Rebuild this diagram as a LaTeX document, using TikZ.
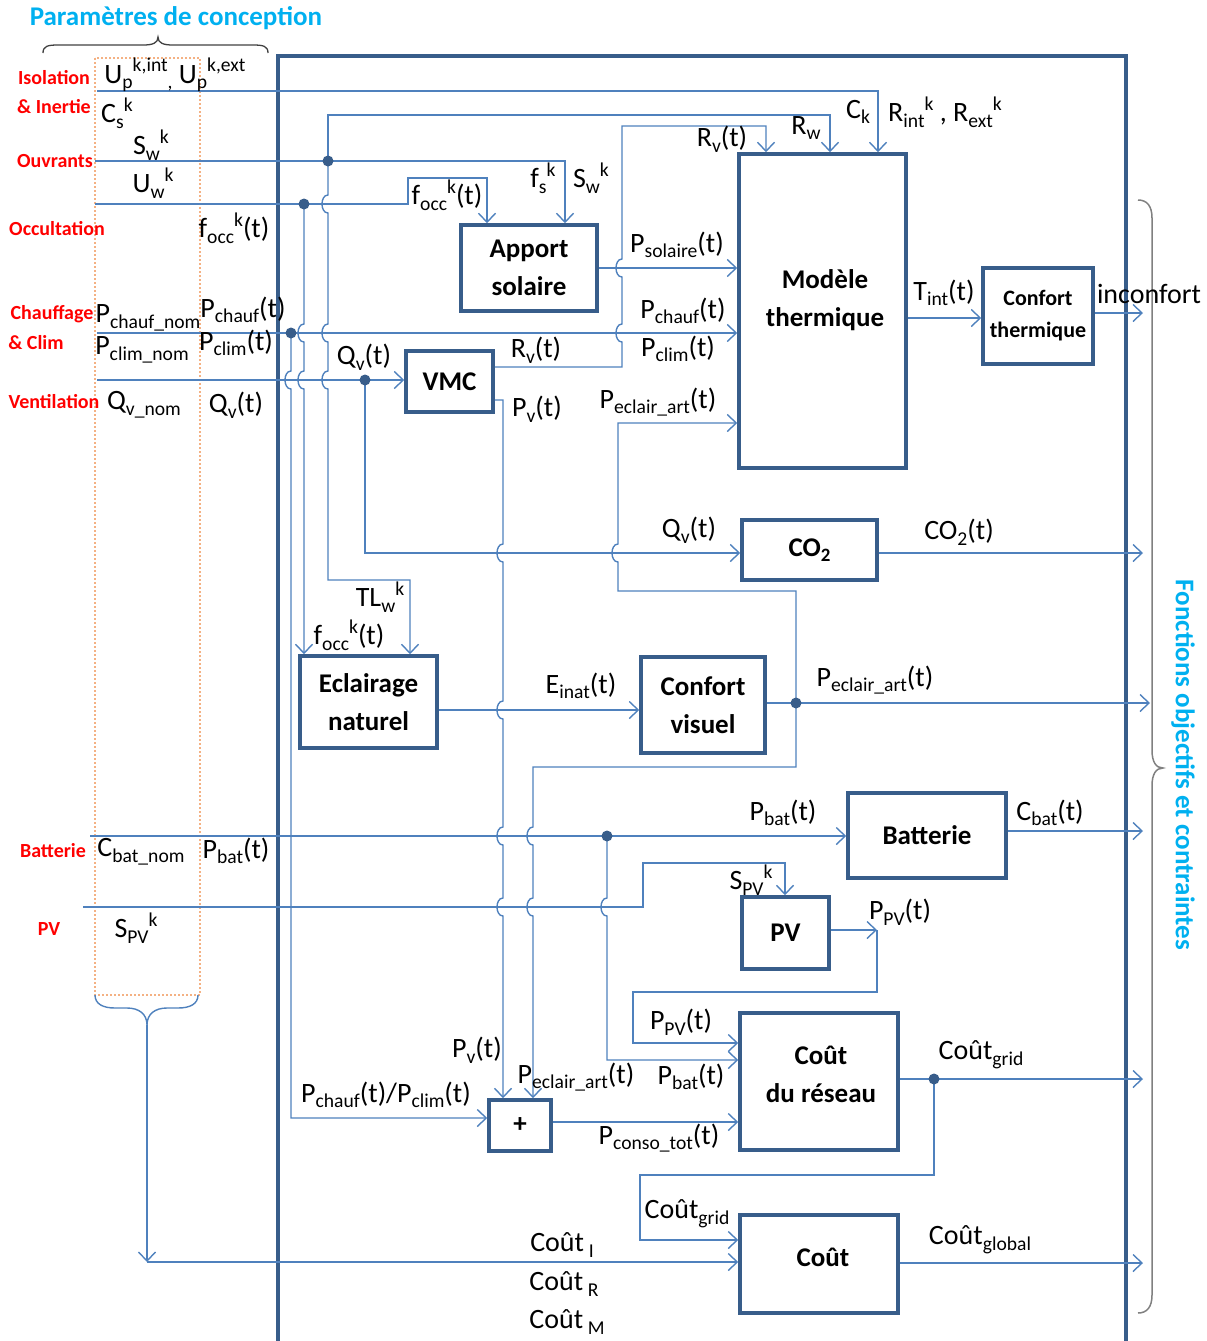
\documentclass[tikz,border=0pt]{standalone}
\usepackage{fontspec}
\setmainfont{Carlito}
\usetikzlibrary{arrows.meta}
\definecolor{lineblue}{RGB}{79,129,189}
\definecolor{boxblue}{RGB}{56,93,138}
\definecolor{redlab}{RGB}{255,0,0}
\definecolor{cyanlab}{RGB}{0,176,240}
\definecolor{orangedot}{RGB}{244,177,131}
\definecolor{bracegray}{RGB}{64,64,64}
\definecolor{bracegrayb}{RGB}{128,128,128}
\newcommand\hpd[2]{-- (#1,#2-9) .. controls (#1-8,#2-9) and (#1-8,#2+9) .. (#1,#2+9)}
\newcommand\hpu[2]{-- (#1,#2+9) .. controls (#1-8,#2+9) and (#1-8,#2-9) .. (#1,#2-9)}
\makeatletter
\newcommand\sbs[1]{\raisebox{-0.2em}{\fontsize{\dimexpr 0.7\dimexpr\f@size pt\relax\relax}{10pt}\selectfont#1}}
\newcommand\sps[1]{\raisebox{0.4em}{\fontsize{\dimexpr 0.7\dimexpr\f@size pt\relax\relax}{10pt}\selectfont#1}}
\makeatother
\begin{document}
\begin{tikzpicture}[x=1pt,y=-1pt,
 box/.style={draw=boxblue, line width=3.5pt, inner sep=0pt, font=\bfseries\fontsize{27}{38}\selectfont, align=center},
 btxt/.style={inner sep=0pt, font=\bfseries\fontsize{27}{38}\selectfont, align=center},
 conn/.style={draw=lineblue, line width=1.4pt},
 arr/.style={conn, -{Straight Barb[length=9pt,width=17pt]}},
 jdot/.style={circle, fill=boxblue, inner sep=0pt, minimum size=11pt},
 lab/.style={inner sep=0pt, font=\fontsize{28}{32}\selectfont},
 rlab/.style={inner sep=0pt, text=redlab, font=\bfseries\fontsize{20}{22}\selectfont},
 ttl/.style={inner sep=0pt, text=cyanlab, font=\bfseries\fontsize{27}{30}\selectfont},
]
\useasboundingbox (0,0) rectangle (1207,1341);

% title and braces
\node[ttl] (title) at (176,18) {Paramètres de conception};
\draw[bracegray, line width=1.3pt] (43,53) .. controls (43,46) and (48,45) .. (58,45) -- (143,45) .. controls (153,45) and (158,43) .. (158,37) .. controls (158,43) and (163,45) .. (173,45) -- (253,45) .. controls (263,45) and (268,46) .. (268,53);
\draw[orangedot, line width=2pt, dash pattern=on 2pt off 2pt] (95,58) rectangle (200,995);
\coordinate (braceTip) at (147,1025);
\draw[conn] (95,995) .. controls (95,1004) and (103,1008) .. (115,1008) -- (127,1008) .. controls (139,1008) and (147,1014) .. (braceTip) .. controls (147,1014) and (155,1008) .. (167,1008) -- (178,1008) .. controls (190,1008) and (198,1004) .. (198,995);
\draw[bracegrayb, line width=1.5pt] (1138,200) .. controls (1147,200) and (1152,206) .. (1152,218) -- (1152,750) .. controls (1152,762) and (1156,768) .. (1163,768) .. controls (1156,768) and (1152,774) .. (1152,786) -- (1152,1295) .. controls (1152,1307) and (1147,1313) .. (1138,1313);
\node[ttl, rotate=-90] (fobj) at (1183,765) {Fonctions objectifs et contraintes};

% main frame
\draw[boxblue, line width=4pt] (278,1341) -- (278,56) -- (1126,56) -- (1126,1341);

% red labels
\node[rlab] (rIso) at (54,78) {Isolation};
\node[rlab] (rIne) at (54,107) {\& Inertie};
\node[rlab] (rOuv) at (55,161) {Ouvrants};
\node[rlab] (rOcc) at (57,229) {Occultation};
\node[rlab] (rCha) at (52,314) {Chauffage};
\node[rlab] (rCli) at (36,343) {\& Clim};
\node[rlab] (rVen) at (54,402) {Ventilation};
\node[rlab] (rBat) at (53,851) {Batterie};
\node[rlab] (rPV) at (49,929) {PV};

% boxes
\node[box, minimum width=136pt, minimum height=86pt] (apport) at (529,268) {Apport\\solaire};
\node[box, minimum width=167pt, minimum height=314pt] (modele) at (822.5,311) {};
\node[btxt] (tModele) at (825,300) {Modèle\\thermique};
\node[box, minimum width=110pt, minimum height=96pt, font=\bfseries\fontsize{22}{32}\selectfont] (confT) at (1038,316) {Confort\\thermique};
\node[box, minimum width=87pt, minimum height=61pt] (vmc) at (449.5,381.5) {VMC};
\node[box, minimum width=135pt, minimum height=60pt] (co2) at (809.5,550) {CO\sbs{2}};
\node[box, minimum width=137pt, minimum height=92pt] (eclair) at (368.5,702) {Eclairage\\naturel};
\node[box, minimum width=124pt, minimum height=96pt] (confV) at (703,705) {Confort\\visuel};
\node[box, minimum width=158pt, minimum height=85pt] (batt) at (927,835.5) {Batterie};
\node[box, minimum width=87pt, minimum height=72pt] (pv) at (785.5,933) {PV};
\node[box, minimum width=62pt, minimum height=51pt] (plus) at (520,1125.5) {+};
\node[box, minimum width=158pt, minimum height=137pt] (reseau) at (819,1081.5) {};
\node[btxt] (tReseau) at (821,1074) {Coût\\du réseau};
\node[box, minimum width=158pt, minimum height=98pt] (cout) at (819,1264) {};
\node[btxt] (tCout) at (823,1257) {Coût};

% input coordinates and junctions
\coordinate (inIso) at (97,91);
\coordinate (inOuv) at (95,161);
\coordinate (inOcc) at (95,204);
\coordinate (inCh) at (97,333);
\coordinate (inVe) at (97,380);
\coordinate (inBat) at (90,836);
\coordinate (inPV) at (83,907);
\coordinate (dOuv) at (328,161);
\coordinate (dOcc) at (304,204);
\coordinate (dCh) at (291,333);
\coordinate (dVe) at (365,380);
\coordinate (dEcl) at (796,703);
\coordinate (dBat) at (607,836);
\coordinate (dGrid) at (934,1079);

% connectors
\draw[arr] (inIso) -- (878,91) -- (878,91 |- modele.north);
\draw[arr] (inOuv) -- (565,161) -- (565,161 |- apport.north);
\draw[arr] (dOuv) -- (328,115) -- (830,115) -- (830,115 |- modele.north);
\draw[arr] (dOuv) \hpd{328}{204} \hpd{328}{333} \hpd{328}{380} -- (328,580) -- (410,580) -- (410,580 |- eclair.north);
\draw[arr] (inOcc) -- (408,204) -- (408,178) -- (487,178) -- (487,178 |- apport.north);
\draw[arr] (dOcc) \hpd{304}{333} \hpd{304}{380} -- (304,204 |- eclair.north);
\draw[arr] (inCh) -- (inCh -| modele.west);
\draw[arr] (dCh) \hpd{291}{380} -- (291,1118) -- (291,1118 -| plus.west);
\draw[arr] (inVe) -- (inVe -| vmc.west);
\draw[arr] (dVe) -- (365,553) -- (365,553 -| co2.west);
\draw[arr] (vmc.east |- 0,367) -- (622,367) \hpu{622}{333} \hpu{622}{268} -- (622,126) -- (766,126) -- (766,126 |- modele.north);
\draw[arr] (vmc.east |- 0,400) -- (503,400) \hpd{503}{553} \hpd{503}{710} \hpd{503}{836} \hpd{503}{907} -- (503,400 |- plus.north);
\draw[arr] (apport.east) -- (apport.east -| modele.west);
\draw[arr] (modele.east |- 0,318) -- (0,318 -| confT.west);
\draw[arr] (confT.east |- 0,313) -- (1143,313);
\draw[arr] (co2.east |- 0,553) -- (1143,553);
\draw[arr] (eclair.east |- 0,710) -- (0,710 -| confV.west);
\draw[arr] (confV.east |- dEcl) -- (1150,703);
\draw[arr] (dEcl) -- (796,591) -- (618,591) \hpu{618}{553} -- (618,423) -- (0,423 -| modele.west);
\draw[arr] (dEcl) -- (796,767) -- (533,767) \hpd{533}{836} \hpd{533}{907} -- (533,767 |- plus.north);
\draw[arr] (inBat) -- (inBat -| batt.west);
\draw[arr] (dBat) \hpd{607}{907} -- (607,1060) -- (0,1060 -| reseau.west);
\draw[arr] (batt.east |- 0,831) -- (1143,831);
\draw[arr] (inPV) -- (643,907) -- (643,863) -- (785,863) -- (785,863 |- pv.north);
\draw[arr] (pv.east |- 0,930) -- (877,930);
\draw[arr] (877,930) -- (877,992) -- (633,992) -- (633,1043) -- (0,1043 -| reseau.west);
\draw[arr] (plus.east |- 0,1122) -- (0,1122 -| reseau.west);
\draw[arr] (reseau.east |- dGrid) -- (1143,1079);
\draw[arr] (dGrid) -- (934,1175) -- (640,1175) -- (640,1240) -- (0,1240 -| cout.west);
\draw[arr] (cout.east |- 0,1263) -- (1143,1263);
\draw[arr] (braceTip) -- (147,1262);
\draw[arr] (147,1262) -- (0,1262 -| cout.west);

% junction dots
\node[jdot] (nOuv) at (dOuv) {};
\node[jdot] (nOcc) at (dOcc) {};
\node[jdot] (nCh) at (dCh) {};
\node[jdot] (nVe) at (dVe) {};
\node[jdot] (nEcl) at (dEcl) {};
\node[jdot] (nBat) at (dBat) {};
\node[jdot] (nGrid) at (dGrid) {};

% left parameter labels
\node[lab] (lUp) at (175,75) {U\sbs{p}\sps{k,int}\sbs{,} U\sbs{p}\sps{k,ext}};
\node[lab] (lCs) at (117,113) {C\sbs{s}\sps{k}};
\node[lab] (lSw0) at (151,145) {S\sbs{w}\sps{k}};
\node[lab] (lUw) at (153,183) {U\sbs{w}\sps{k}};
\node[lab] (lfocc0) at (234,228) {f\sbs{occ}\sps{k}(t)};
\node[lab] (lPchn) at (148,318) {P\sbs{chauf\_nom}};
\node[lab] (lPch0) at (243,310) {P\sbs{chauf}(t)};
\node[lab] (lPcln) at (142,350) {P\sbs{clim\_nom}};
\node[lab] (lPcl0) at (236,343) {P\sbs{clim}(t)};
\node[lab] (lQvn) at (144,405) {Q\sbs{v\_nom}};
\node[lab] (lQv0) at (236,405) {Q\sbs{v}(t)};
\node[lab] (lCbn) at (141,852) {C\sbs{bat\_nom}};
\node[lab] (lPb0) at (236,851) {P\sbs{bat}(t)};
\node[lab] (lSpv0) at (136,928) {S\sbs{PV}\sps{k}};

% connector labels
\node[lab] (lCk) at (858,112) {C\sbs{k}};
\node[lab] (lRint) at (945,112) {R\sbs{int}\sps{k} , R\sbs{ext}\sps{k}};
\node[lab] (lRw) at (806,128) {R\sbs{w}};
\node[lab] (lRv1) at (722,139) {R\sbs{v}(t)};
\node[lab] (lfs) at (543,178) {f\sbs{s}\sps{k}};
\node[lab] (lSw1) at (591,178) {S\sbs{w}\sps{k}};
\node[lab] (lfocc1) at (447,195) {f\sbs{occ}\sps{k}(t)};
\node[lab] (lPsol) at (677,245) {P\sbs{solaire}(t)};
\node[lab] (lPch) at (683,311) {P\sbs{chauf}(t)};
\node[lab] (lPcl) at (678,349) {P\sbs{clim}(t)};
\node[lab] (lRv2) at (536,350) {R\sbs{v}(t)};
\node[lab] (lQv1) at (364,357) {Q\sbs{v}(t)};
\node[lab] (lPv1) at (537,409) {P\sbs{v}(t)};
\node[lab] (lPea1) at (658,402) {P\sbs{eclair\_art}(t)};
\node[lab] (lTint) at (944,293) {T\sbs{int}(t)};
\node[lab] (linc) at (1149,294) {inconfort};
\node[lab] (lQv2) at (689,530) {Q\sbs{v}(t)};
\node[lab] (lCO2) at (959,532) {CO\sbs{2}(t)};
\node[lab] (lTLw) at (380,597) {TL\sbs{w}\sps{k}};
\node[lab] (lfocc2) at (349,635) {f\sbs{occ}\sps{k}(t)};
\node[lab] (lEinat) at (581,686) {E\sbs{inat}(t)};
\node[lab] (lPea2) at (875,680) {P\sbs{eclair\_art}(t)};
\node[lab] (lPbat1) at (783,813) {P\sbs{bat}(t)};
\node[lab] (lCbat) at (1050,813) {C\sbs{bat}(t)};
\node[lab] (lSpv1) at (751,880) {S\sbs{PV}\sps{k}};
\node[lab] (lPpv1) at (900,912) {P\sbs{PV}(t)};
\node[lab] (lPpv2) at (681,1022) {P\sbs{PV}(t)};
\node[lab] (lPv2) at (477,1050) {P\sbs{v}(t)};
\node[lab] (lPea3) at (576,1077) {P\sbs{eclair\_art}(t)};
\node[lab] (lPbat2) at (691,1077) {P\sbs{bat}(t)};
\node[lab] (lPchcl) at (386,1095) {P\sbs{chauf}(t)/P\sbs{clim}(t)};
\node[lab] (lPcons) at (659,1138) {P\sbs{conso\_tot}(t)};
\node[lab] (lCg1) at (981,1055) {Coût\sbs{grid}};
\node[lab] (lCg2) at (687,1214) {Coût\sbs{grid}};
\node[lab] (lCglob) at (980,1240) {Coût\sbs{global}};
\node[lab] (lCI) at (562,1245) {Coût\,\sbs{I}};
\node[lab] (lCR) at (564,1284) {Coût\,\sbs{R}};
\node[lab] (lCM) at (567,1322) {Coût\,\sbs{M}};
\end{tikzpicture}
\end{document}
